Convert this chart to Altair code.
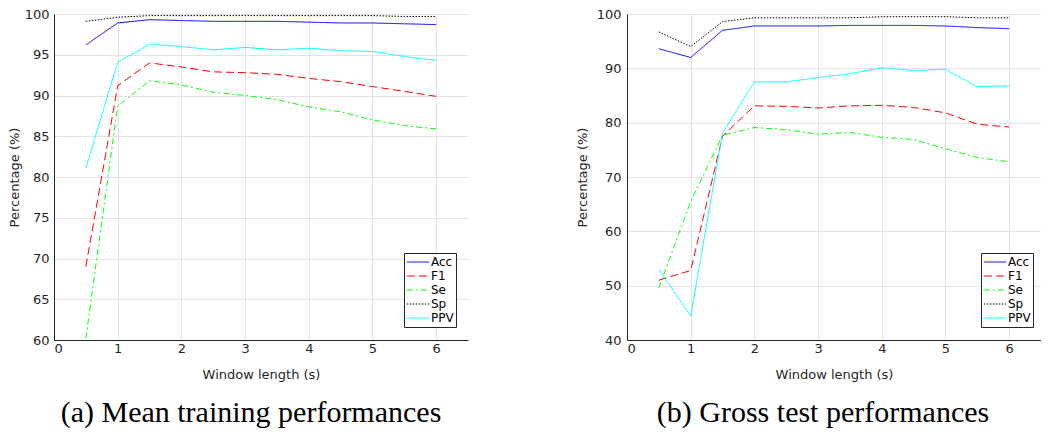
import altair as alt
import pandas as pd

x_vals = [0.5, 1, 1.5, 2, 2.5, 3, 3.5, 4, 4.5, 5, 5.5, 6]
series = ["Acc", "F1", "Se", "Sp", "PPV"]

# (a) Mean training performances
train_acc = [96.2, 98.9, 99.3, 99.2, 99.1, 99.1, 99.1, 99.0, 98.9, 98.9, 98.8, 98.7]
train_f1 = [69.0, 91.2, 94.0, 93.5, 92.9, 92.8, 92.6, 92.1, 91.7, 91.1, 90.5, 89.9]
train_se = [60.2, 88.7, 91.8, 91.3, 90.4, 90.0, 89.5, 88.6, 88.0, 87.0, 86.3, 85.9]
train_sp = [99.1, 99.6, 99.8, 99.8, 99.8, 99.8, 99.8, 99.8, 99.8, 99.8, 99.7, 99.7]
train_ppv = [81.1, 94.1, 96.3, 96.0, 95.6, 95.9, 95.6, 95.8, 95.5, 95.4, 94.8, 94.3]

# (b) Gross test performances
test_acc = [93.6, 92.0, 97.0, 97.8, 97.8, 97.8, 97.9, 97.9, 97.9, 97.8, 97.5, 97.3]
test_f1 = [51.0, 52.8, 77.5, 83.1, 83.0, 82.7, 83.1, 83.2, 82.8, 81.8, 79.7, 79.2]
test_se = [49.6, 65.5, 77.7, 79.1, 78.7, 77.9, 78.2, 77.3, 76.9, 75.2, 73.6, 72.8]
test_sp = [96.7, 94.0, 98.6, 99.3, 99.3, 99.3, 99.3, 99.5, 99.5, 99.5, 99.3, 99.3]
test_ppv = [53.0, 44.4, 78.1, 87.5, 87.5, 88.3, 89.0, 90.1, 89.6, 89.8, 86.6, 86.8]

x_ticks = [0, 1, 2, 3, 4, 5, 6]
train_y_ticks = [60, 65, 70, 75, 80, 85, 90, 95, 100]
test_y_ticks = [40, 50, 60, 70, 80, 90, 100]

colors = ["#0000ff", "#ff0000", "#00ff00", "#000000", "#00ffff"]
dashes = [[1, 0], [8, 4], [6, 3, 2, 3], [1.5, 1.5], [1, 0]]
widths = [1, 1, 1, 2, 1]


def to_long(vals):
    rows = []
    for name, ys in zip(series, vals):
        for x, y in zip(x_vals, ys):
            rows.append({"x": x, "value": y, "series": name})
    return pd.DataFrame(rows)


W, H = 414, 326
FONT = "DejaVu Sans"


def panel(df, ydom, yticks, caption, dx, lpad, tpad, lx):
    legend = alt.Legend(
        title=None, orient="none", legendX=lx, legendY=239, symbolType="stroke",
        symbolSize=500, symbolStrokeWidth=1.5, labelFont=FONT, labelFontSize=12,
        labelColor="#000000", strokeColor="#262626", fillColor="#ffffff",
        padding=2, rowPadding=0, labelOffset=1, clipHeight=14,
    )
    return alt.Chart(df).mark_line(clip=True).encode(
        x=alt.X("x:Q", scale=alt.Scale(domain=[0, 6.5], nice=False, zero=False),
                axis=alt.Axis(values=x_ticks, title="Window length (s)", format="d",
                              titlePadding=13)),
        y=alt.Y("value:Q", scale=alt.Scale(domain=ydom, nice=False, zero=False),
                axis=alt.Axis(values=yticks, title="Percentage (%)", format="d",
                              labelPadding=lpad, titlePadding=tpad)),
        color=alt.Color("series:N", sort=series,
                        scale=alt.Scale(domain=series, range=colors), legend=legend),
        strokeDash=alt.StrokeDash("series:N", sort=series,
                                  scale=alt.Scale(domain=series, range=dashes), legend=legend),
        strokeWidth=alt.StrokeWidth("series:N", sort=series,
                                    scale=alt.Scale(domain=series, range=widths), legend=None),
    ).properties(
        width=W, height=H,
        title=alt.TitleParams(caption, orient="bottom", anchor="middle", dx=dx,
                              font="Liberation Serif", fontSize=30, fontWeight="normal",
                              color="#000000", offset=17),
    )


left = panel(to_long([train_acc, train_f1, train_se, train_sp, train_ppv]),
             [60, 100], train_y_ticks, "(a) Mean training performances", -10, 5, 3, 350)
right = panel(to_long([test_acc, test_f1, test_se, test_sp, test_ppv]),
              [40, 100], test_y_ticks, "(b) Gross test performances", -11, 6, 7, 354)

chart = alt.hconcat(left, right, spacing=108).resolve_scale(
    color="independent", strokeDash="independent", strokeWidth="independent"
).resolve_legend(color="independent", strokeDash="independent").properties(
    padding={"left": 0, "right": 0, "top": 0, "bottom": 0}
).configure_view(stroke=None).configure_axis(
    labelFont=FONT, labelFontSize=13, labelColor="#262626",
    titleFont=FONT, titleFontSize=13, titleColor="#262626", titleFontWeight="normal",
    domainColor="#262626", gridColor="#e3e3e3", ticks=False,
)

chart.save("out.html", embed_options={"renderer": "svg", "actions": False})
